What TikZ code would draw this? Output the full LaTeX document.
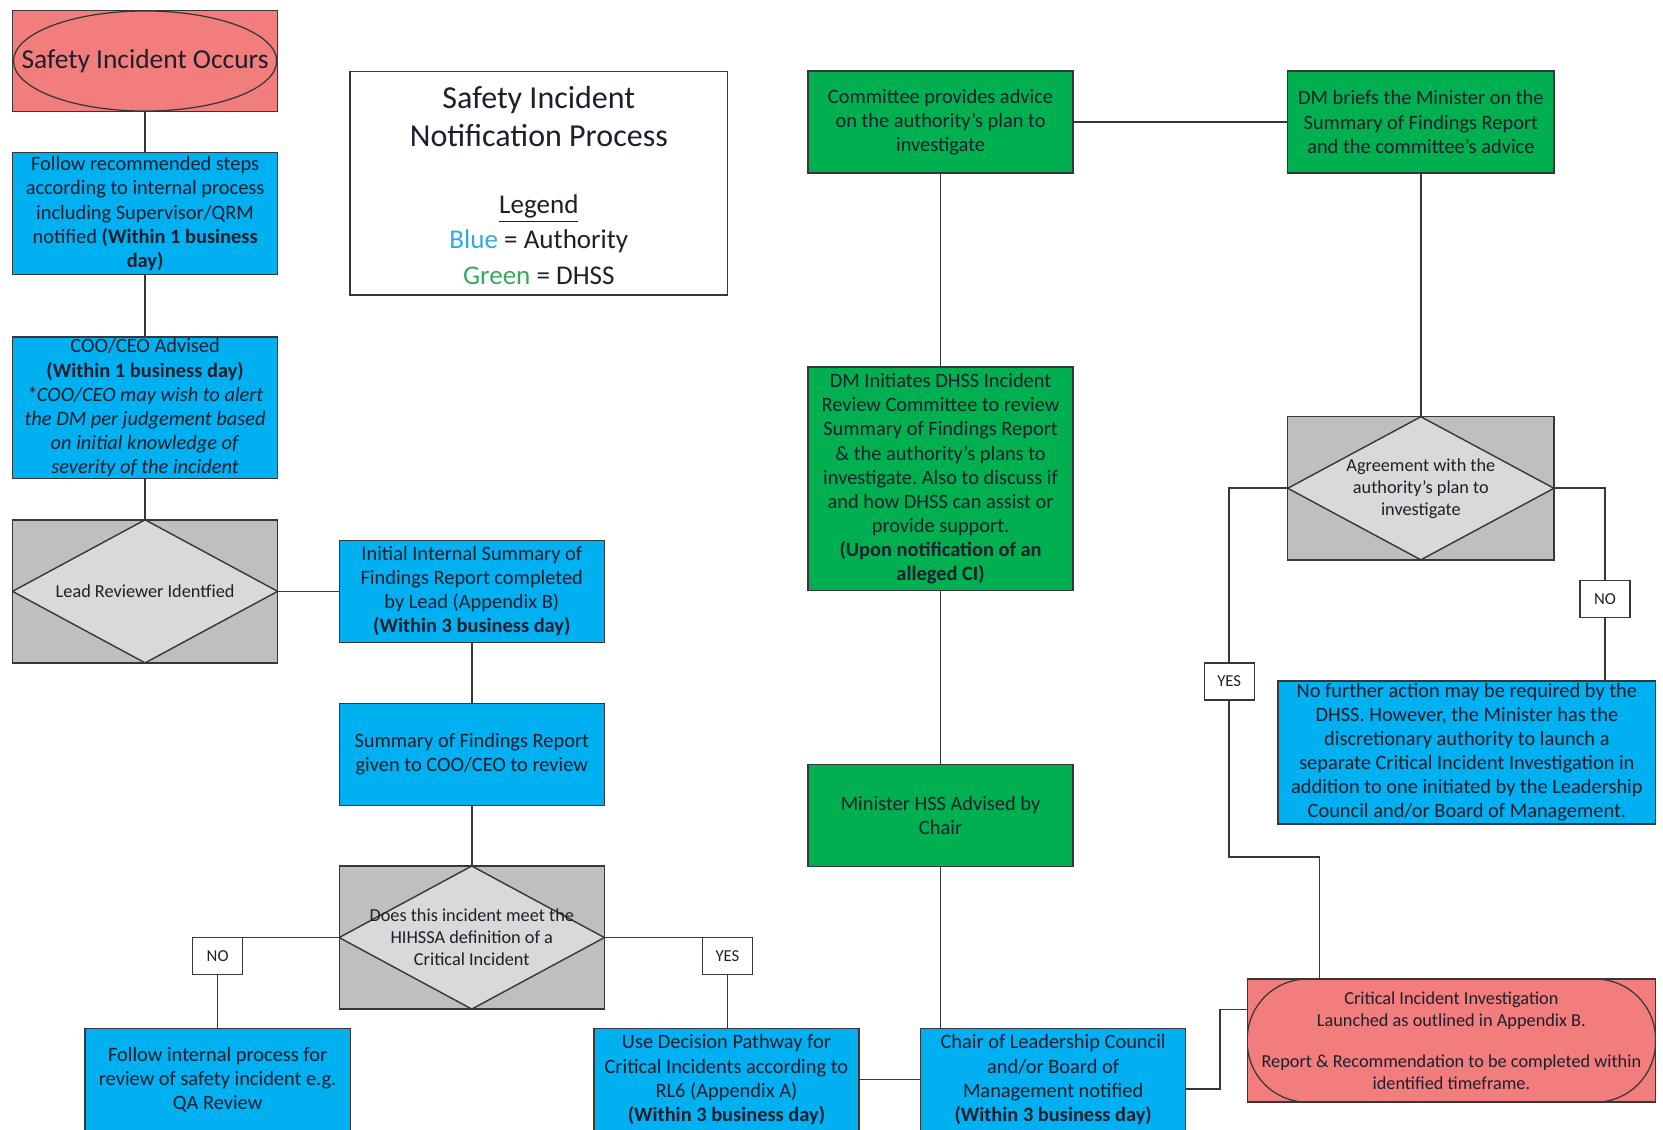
\documentclass[tikz,border=0pt]{standalone}
\usepackage{fontspec}
\setmainfont{Carlito}
\usepackage{tikz}
\usetikzlibrary{positioning}
\usepackage{xcolor}
\definecolor{sinblue}{RGB}{0,176,240}
\definecolor{singreen}{RGB}{0,176,80}
\definecolor{sinred}{RGB}{242,125,125}
\definecolor{sinrect}{RGB}{191,191,191}
\definecolor{sindia}{RGB}{217,217,217}
\definecolor{sinline}{RGB}{55,55,55}
\definecolor{sintext}{RGB}{30,30,45}
\definecolor{keyblue}{RGB}{50,170,225}
\definecolor{keygreen}{RGB}{55,170,95}
\newcommand{\nodefont}{\fontsize{11.6}{13.7}\selectfont}
\newcommand{\diafont}{\fontsize{10.4}{12.5}\selectfont}
\newcommand{\tagfont}{\fontsize{9.5}{11}\selectfont}
\newcommand{\titlefont}{\fontsize{18.2}{21.7}\selectfont}
\newcommand{\keyfont}{\fontsize{15.4}{20}\selectfont}
\frenchspacing
\tikzset{
  authbox/.style={rectangle,draw=sinline,line width=0.8pt,fill=sinblue,minimum width=5.3cm,minimum height=2.04cm,inner sep=0pt,align=center,text=sintext,font=\nodefont},
  dhssbox/.style={authbox,fill=singreen},
  startnode/.style={authbox,fill=sinred,minimum height=2.01cm,font=\fontsize{15.6}{18}\selectfont,
    path picture={\draw[sinline,line width=0.7pt] (path picture bounding box.center) ellipse[x radius=2.63cm,y radius=1.0cm];}},
  endnode/.style={authbox,fill=sinred,minimum width=8.16cm,minimum height=2.46cm,font=\diafont,
    path picture={\draw[sinline,line width=0.7pt,rounded corners=1.2cm] (path picture bounding box.south west) rectangle (path picture bounding box.north east);}},
  decnode/.style={rectangle,draw=sinline,line width=0.8pt,fill=sinrect,minimum width=5.3cm,minimum height=2.86cm,inner sep=0pt,align=center,text=sintext,font=\diafont,
    path picture={\draw[sinline,line width=0.8pt,fill=sindia] (path picture bounding box.north) -- (path picture bounding box.east)
      -- (path picture bounding box.south) -- (path picture bounding box.west) -- cycle;}},
  tagnode/.style={rectangle,draw=sinline,line width=0.8pt,fill=white,minimum width=1.0cm,minimum height=0.74cm,inner sep=0pt,text=sintext,font=\tagfont},
  legendbox/.style={rectangle,draw=sinline,line width=0.8pt,fill=white,minimum width=7.55cm,minimum height=4.47cm},
  link/.style={draw=sinline,line width=0.9pt}
}

\begin{document}
\begin{tikzpicture}[font=\nodefont]
  \useasboundingbox (0,0) rectangle (33.24,22.58);
  \clip (0,0) rectangle (33.24,22.58);
  \node[startnode] (occurs) at (2.90,21.36) {Safety Incident Occurs};
  \node[authbox,minimum height=2.44cm] (steps) at (2.90,18.31) {Follow recommended steps\\according to internal process\\including Supervisor/QRM\\notified \textbf{(Within 1 business}\\\textbf{day)}};
  \node[authbox,minimum height=2.82cm] (advised) at (2.90,14.43) {COO/CEO Advised\\\textbf{(Within 1 business day)}\\\textit{*COO/CEO may wish to alert}\\\textit{the DM per judgement based}\\\textit{on initial knowledge of}\\\textit{severity of the incident}};
  \node[decnode] (lead) at (2.90,10.76) {Lead Reviewer Identfied};
  \node[authbox] (initial) at (9.43,10.76) {Initial Internal Summary of\\Findings Report completed\\by Lead (Appendix B)\\\textbf{(Within 3 business day)}};
  \node[authbox] (sumrep) at (9.43,7.50) {Summary of Findings Report\\given to COO/CEO to review};
  \node[decnode] (isci) at (9.43,3.84) {Does this incident meet the\\HIHSSA definition of a\\Critical Incident};
  \node[tagnode] (nolow) at (4.35,3.47) {NO};
  \node[authbox] (internal) at (4.35,1.00) {Follow internal process for\\review of safety incident e.g.\\QA Review};
  \node[tagnode] (yeslow) at (14.54,3.47) {YES};
  \node[authbox] (pathway) at (14.52,1.00) {Use Decision Pathway for\\Critical Incidents according to\\RL6 (Appendix A)\\\textbf{(Within 3 business day)}};
  \node[authbox] (chair) at (21.05,1.00) {Chair of Leadership Council\\and/or Board of\\Management notified\\\textbf{(Within 3 business day)}};
  \node[dhssbox] (minister) at (18.80,6.28) {Minister HSS Advised by\\Chair};
  \node[dhssbox,minimum height=4.47cm] (initiate) at (18.80,13.01) {DM Initiates DHSS Incident\\Review Committee to review\\Summary of Findings Report\\\& the authority's plans to\\investigate. Also to discuss if\\and how DHSS can assist or\\provide support.\\\textbf{(Upon notification of an}\\\textbf{alleged CI)}};
  \node[dhssbox] (advice) at (18.80,20.14) {Committee provides advice\\on the authority's plan to\\investigate};
  \node[dhssbox,minimum width=5.32cm] (briefs) at (28.40,20.14) {DM briefs the Minister on the\\Summary of Findings Report\\and the committee's advice};
  \node[decnode,minimum width=5.32cm] (agree) at (28.40,12.82) {Agreement with the\\authority's plan to\\investigate};
  \node[tagnode] (yesup) at (24.57,8.96) {YES};
  \node[tagnode] (noup) at (32.08,10.61) {NO};
  \node[authbox,minimum width=7.55cm,minimum height=2.86cm] (nofurther) at (29.32,7.54) {No further action may be required by the\\DHSS. However, the Minister has the\\discretionary authority to launch a\\separate Critical Incident Investigation in\\addition to one initiated by the Leadership\\Council and/or Board of Management.};
  \node[endnode] (cii) at (29.01,1.78) {Critical Incident Investigation\\Launched as outlined in Appendix B.\\[11pt]Report \& Recommendation to be completed within\\identified timeframe.};
  \node[legendbox] (legend) at (10.77,18.92) {};
  \node[font=\titlefont,align=center,text=sintext] (title) at (10.77,20.25) {Safety Incident\\Notification Process};
  \node[font=\keyfont,align=center,text=sintext] (key) at (10.77,17.79) {\underline{Legend}\\\textcolor{keyblue}{Blue} = Authority\\\textcolor{keygreen}{Green} = DHSS};
  \draw[link] (occurs.south) -- (steps.north);
  \draw[link] (steps.south) -- (advised.north);
  \draw[link] (advised.south) -- (lead.north);
  \draw[link] (lead.east) -- (initial.west);
  \draw[link] (initial.south) -- (sumrep.north);
  \draw[link] (sumrep.south) -- (isci.north);
  \draw[link] (isci.west) -| (nolow.north);
  \draw[link] (nolow.south) -- (internal.north);
  \draw[link] (isci.east) -| (yeslow.north);
  \draw[link] (yeslow.south) -- (yeslow.south |- pathway.north);
  \draw[link] (pathway.east) -- (chair.west);
  \draw[link] (minister.south) -- (minister.south |- chair.north);
  \draw[link] (initiate.south) -- (minister.north);
  \draw[link] (advice.south) -- (initiate.north);
  \draw[link] (advice.east) -- (briefs.west);
  \draw[link] (briefs.south) -- (agree.north);
  \draw[link] (agree.west) -| (yesup.north);
  \coordinate (yesknee) at (26.37,5.45);
  \draw[link] (yesup.south) |- (yesknee) -- (yesknee |- cii.north);
  \draw[link] (agree.east) -| (noup.north);
  \draw[link] (noup.south) -- (noup.south |- nofurther.north);
  \coordinate (chairknee) at (24.38,2.40);
  \draw[link] (chair.east) ++(0,-0.19) -| (chairknee) -- (chairknee -| cii.west);
\end{tikzpicture}
\end{document}
